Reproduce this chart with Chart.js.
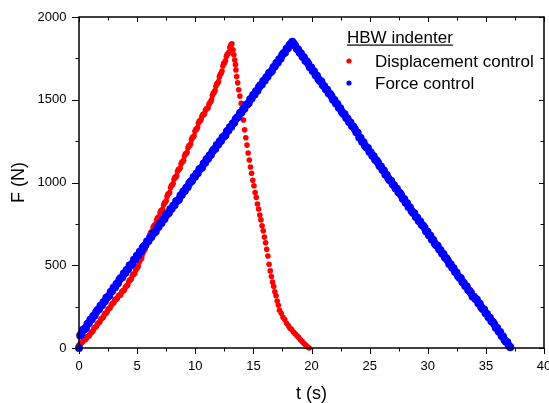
<!DOCTYPE html>
<html>
<head>
<meta charset="utf-8">
<script src="https://cdn.jsdelivr.net/npm/chart.js@4.4.1/dist/chart.umd.min.js"></script>
<style>
  body { margin: 0; background: #fff; }
  canvas { display: block; }
</style>
</head>
<body>
<canvas id="myChart" width="549" height="403"></canvas>
<script>
// Displacement control (red)
const dispT = [0, 0.075, 0.15, 0.225, 0.3, 0.375, 0.45, 0.525, 0.6, 0.675, 0.75, 0.825, 0.9, 0.975,
    1.05, 1.125, 1.2, 1.275, 1.35, 1.425, 1.5, 1.575, 1.65, 1.725, 1.8, 1.875, 1.95, 2.025,
    2.1, 2.175, 2.25, 2.325, 2.4, 2.475, 2.55, 2.625, 2.7, 2.775, 2.85, 2.925, 3.0, 3.075,
    3.15, 3.225, 3.3, 3.375, 3.45, 3.525, 3.6, 3.675, 3.75, 3.825, 3.9, 3.975, 4.05, 4.125,
    4.2, 4.275, 4.35, 4.425, 4.5, 4.575, 4.65, 4.725, 4.8, 4.875, 4.95, 5.025, 5.1, 5.175,
    5.25, 5.325, 5.4, 5.475, 5.55, 5.625, 5.7, 5.775, 5.85, 5.925, 6.0, 6.075, 6.15, 6.225,
    6.3, 6.375, 6.45, 6.525, 6.6, 6.675, 6.75, 6.825, 6.9, 6.975, 7.05, 7.125, 7.2, 7.275,
    7.35, 7.425, 7.5, 7.575, 7.65, 7.725, 7.8, 7.875, 7.95, 8.025, 8.1, 8.175, 8.25, 8.325,
    8.4, 8.475, 8.55, 8.625, 8.7, 8.775, 8.85, 8.925, 9.0, 9.075, 9.15, 9.225, 9.3, 9.375,
    9.45, 9.525, 9.6, 9.675, 9.75, 9.825, 9.9, 9.975, 10.05, 10.125, 10.2, 10.275, 10.35, 10.425,
    10.5, 10.575, 10.65, 10.725, 10.8, 10.875, 10.95, 11.025, 11.1, 11.175, 11.25, 11.325, 11.4, 11.475,
    11.55, 11.625, 11.7, 11.775, 11.85, 11.925, 12.0, 12.075, 12.15, 12.225, 12.3, 12.375, 12.45, 12.525,
    12.6, 12.675, 12.75, 12.825, 12.9, 12.975, 13.05, 13.1, 13.15, 13.25, 13.32, 13.4, 13.46,
    13.5, 13.56, 13.65, 13.74, 13.84, 13.95, 14.05, 14.15, 14.25, 14.35, 14.45, 14.55, 14.65, 14.75, 14.85, 14.95,
    15.05, 15.15, 15.25, 15.35, 15.45, 15.55, 15.65, 15.75, 15.85, 15.95, 16.05, 16.15, 16.25, 16.35, 16.45, 16.55,
    16.65, 16.75, 16.85, 16.95, 17.05, 17.15, 17.25, 17.4, 17.55, 17.7, 17.85, 18.0, 18.15, 18.3, 18.45, 18.6,
    18.75, 18.9, 19.05, 19.2, 19.35, 19.5, 19.65, 19.8]
const dispF = [18, 22, 30, 31, 36, 44, 49, 50, 55, 64, 70, 71, 76, 88,
    95, 97, 103, 116, 124, 125, 131, 143, 151, 152, 158, 172, 180, 181,
    188, 201, 209, 210, 216, 230, 238, 239, 246, 260, 268, 269, 275, 289,
    296, 295, 300, 314, 320, 319, 324, 339, 346, 345, 349, 365, 373, 374,
    382, 400, 410, 411, 418, 436, 446, 446, 452, 472, 482, 485, 494, 518,
    532, 535, 546, 570, 585, 589, 600, 625, 640, 644, 655, 681, 696, 699,
    708, 730, 740, 742, 750, 773, 786, 787, 794, 818, 830, 831, 838, 864,
    877, 880, 890, 916, 930, 932, 940, 968, 982, 985, 994, 1019, 1031, 1032,
    1040, 1066, 1078, 1080, 1088, 1112, 1124, 1126, 1134, 1160, 1173, 1175, 1183, 1209,
    1222, 1224, 1233, 1259, 1272, 1274, 1282, 1309, 1322, 1324, 1332, 1358, 1371, 1372,
    1380, 1400, 1410, 1410, 1416, 1436, 1446, 1446, 1452, 1472, 1482, 1488, 1499, 1526,
    1540, 1544, 1555, 1582, 1596, 1600, 1610, 1638, 1652, 1660, 1673, 1704, 1720, 1724,
    1735, 1762, 1774, 1778, 1788, 1815, 1828, 1834, 1838, 1802, 1772, 1740, 1712,
    1680, 1640, 1602, 1560, 1522, 1478, 1432, 1378, 1318, 1270, 1226, 1178, 1136, 1094, 1056, 1014,
    980, 940, 910, 870, 840, 803, 774, 738, 708, 670, 636, 596, 556, 506, 466, 432,
    398, 372, 340, 316, 284, 258, 228, 210, 186, 172, 150, 136, 120, 112, 96, 86,
    74, 64, 50, 40, 27, 18, 8, 0]

// Force control (blue)
const forceT = [0,
    0.1, 0.225, 0.35, 0.475, 0.6, 0.725, 0.85, 0.975,
    1.1, 1.225, 1.35, 1.475, 1.6, 1.725, 1.85, 1.975,
    2.1, 2.225, 2.35, 2.475, 2.6, 2.725, 2.85, 2.975,
    3.1, 3.225, 3.35, 3.475, 3.6, 3.725, 3.85, 3.975,
    4.1, 4.225, 4.35, 4.475, 4.6, 4.725, 4.85, 4.975,
    5.1, 5.225, 5.35, 5.475, 5.6, 5.725, 5.85, 5.975,
    6.1, 6.225, 6.35, 6.475, 6.6, 6.725, 6.85, 6.975,
    7.1, 7.225, 7.35, 7.475, 7.6, 7.725, 7.85, 7.975,
    8.1, 8.225, 8.35, 8.475, 8.6, 8.725, 8.85, 8.975,
    9.1, 9.225, 9.35, 9.475, 9.6, 9.725, 9.85, 9.975,
    10.1, 10.225, 10.35, 10.475, 10.6, 10.725, 10.85, 10.975,
    11.1, 11.225, 11.35, 11.475, 11.6, 11.725, 11.85, 11.975,
    12.1, 12.225, 12.35, 12.475, 12.6, 12.725, 12.85, 12.975,
    13.1, 13.225, 13.35, 13.475, 13.6, 13.725, 13.85, 13.975,
    14.1, 14.225, 14.35, 14.475, 14.6, 14.725, 14.85, 14.975,
    15.1, 15.225, 15.35, 15.475, 15.6, 15.725, 15.85, 15.975,
    16.1, 16.225, 16.35, 16.475, 16.6, 16.725, 16.85, 16.975,
    17.1, 17.225, 17.35, 17.475, 17.6, 17.725, 17.85, 17.975,
    18.1, 18.225, 18.35, 18.475, 18.6, 18.725, 18.85, 18.975,
    19.1, 19.225, 19.35, 19.475, 19.6, 19.725, 19.85, 19.975,
    20.1, 20.225, 20.35, 20.475, 20.6, 20.725, 20.85, 20.975,
    21.1, 21.225, 21.35, 21.475, 21.6, 21.725, 21.85, 21.975,
    22.1, 22.225, 22.35, 22.475, 22.6, 22.725, 22.85, 22.975,
    23.1, 23.225, 23.35, 23.475, 23.6, 23.725, 23.85, 23.975,
    24.1, 24.225, 24.35, 24.475, 24.6, 24.725, 24.85, 24.975,
    25.1, 25.225, 25.35, 25.475, 25.6, 25.725, 25.85, 25.975,
    26.1, 26.225, 26.35, 26.475, 26.6, 26.725, 26.85, 26.975,
    27.1, 27.225, 27.35, 27.475, 27.6, 27.725, 27.85, 27.975,
    28.1, 28.225, 28.35, 28.475, 28.6, 28.725, 28.85, 28.975,
    29.1, 29.225, 29.35, 29.475, 29.6, 29.725, 29.85, 29.975,
    30.1, 30.225, 30.35, 30.475, 30.6, 30.725, 30.85, 30.975,
    31.1, 31.225, 31.35, 31.475, 31.6, 31.725, 31.85, 31.975,
    32.1, 32.225, 32.35, 32.475, 32.6, 32.725, 32.85, 32.975,
    33.1, 33.225, 33.35, 33.475, 33.6, 33.725, 33.85, 33.975,
    34.1, 34.225, 34.35, 34.475, 34.6, 34.725, 34.85, 34.975,
    35.1, 35.225, 35.35, 35.475, 35.6, 35.725, 35.85, 35.975,
    36.1, 36.225, 36.35, 36.475, 36.6, 36.725, 36.85, 36.975,
    37.1]
const forceF = [0,
    76, 88, 110, 114, 122, 145, 150, 170,
    173, 193, 197, 218, 229, 234, 256, 259,
    277, 282, 304, 308, 316, 339, 344, 364,
    367, 387, 391, 412, 423, 428, 450, 453,
    471, 476, 498, 502, 510, 533, 538, 558,
    561, 581, 585, 606, 617, 622, 644, 647,
    665, 670, 692, 696, 704, 727, 732, 752,
    755, 775, 779, 800, 811, 816, 838, 841,
    859, 864, 886, 890, 898, 921, 926, 946,
    949, 969, 973, 994, 1005, 1010, 1032, 1035,
    1053, 1058, 1080, 1084, 1092, 1115, 1120, 1140,
    1143, 1163, 1167, 1188, 1199, 1204, 1226, 1229,
    1247, 1252, 1274, 1278, 1286, 1309, 1314, 1334,
    1337, 1357, 1361, 1382, 1393, 1398, 1420, 1423,
    1441, 1446, 1468, 1472, 1480, 1503, 1508, 1528,
    1531, 1551, 1555, 1576, 1587, 1592, 1614, 1617,
    1635, 1640, 1662, 1666, 1674, 1697, 1702, 1722,
    1725, 1745, 1749, 1770, 1781, 1786, 1808, 1811,
    1829, 1838, 1850, 1838, 1827, 1808, 1803, 1786,
    1779, 1760, 1757, 1736, 1731, 1718, 1697, 1695,
    1674, 1671, 1648, 1645, 1624, 1613, 1610, 1588,
    1582, 1563, 1560, 1539, 1534, 1521, 1500, 1498,
    1477, 1474, 1451, 1448, 1427, 1416, 1413, 1391,
    1385, 1366, 1363, 1342, 1337, 1324, 1303, 1301,
    1272, 1269, 1246, 1243, 1222, 1211, 1208, 1186,
    1181, 1162, 1159, 1138, 1133, 1120, 1099, 1097,
    1075, 1072, 1049, 1046, 1025, 1014, 1011, 989,
    984, 965, 962, 941, 936, 923, 902, 900,
    878, 875, 852, 849, 828, 817, 814, 792,
    787, 768, 765, 744, 739, 726, 705, 703,
    682, 679, 656, 653, 632, 621, 618, 596,
    590, 571, 568, 547, 542, 529, 508, 506,
    485, 482, 459, 456, 435, 424, 421, 399,
    393, 374, 371, 350, 345, 332, 311, 309,
    296, 293, 270, 267, 246, 235, 232, 210,
    205, 186, 183, 162, 157, 144, 123, 121,
    99, 96, 73, 70, 49, 38, 35, 13,
    5]

const legendTitle = 'HBW indenter'
const fontName = '"Liberation Sans", Arial, sans-serif'

function toPoints(tArr, fArr) {
    return tArr.map((t, i) => ({ x: t, y: fArr[i] }))
}

// frame, inward/outward ticks and legend, like the original plot
const framePlugin = {
    id: 'frame',
    afterDraw(chart) {
        const ctx = chart.ctx
        const a = chart.chartArea
        const xs = chart.scales.x
        const ys = chart.scales.y
        ctx.save()
        ctx.strokeStyle = '#000'
        ctx.lineWidth = 1.5
        ctx.strokeRect(a.left, a.top, a.right - a.left, a.bottom - a.top)
        ctx.lineWidth = 1
        ctx.beginPath()
        const xt = xs.ticks.map(t => t.value)
        xt.forEach((v, i) => {
            const px = Math.round(xs.getPixelForValue(v)) + 0.5
            ctx.moveTo(px, a.bottom); ctx.lineTo(px, a.bottom + 6)
            ctx.moveTo(px, a.top); ctx.lineTo(px, a.top + 5)
            if (i < xt.length - 1) {
                const mx = Math.round(xs.getPixelForValue((v + xt[i + 1]) / 2)) + 0.5
                ctx.moveTo(mx, a.bottom); ctx.lineTo(mx, a.bottom + 3.5)
                ctx.moveTo(mx, a.top); ctx.lineTo(mx, a.top + 3.5)
            }
        })
        const yt = ys.ticks.map(t => t.value)
        yt.forEach((v, i) => {
            const py = Math.round(ys.getPixelForValue(v)) + 0.5
            ctx.moveTo(a.left, py); ctx.lineTo(a.left - 7, py)
            ctx.moveTo(a.right, py); ctx.lineTo(a.right - 5, py)
            if (i < yt.length - 1) {
                const my = Math.round(ys.getPixelForValue((v + yt[i + 1]) / 2)) + 0.5
                ctx.moveTo(a.left, my); ctx.lineTo(a.left - 3.5, my)
                ctx.moveTo(a.right, my); ctx.lineTo(a.right - 3.5, my)
            }
        })
        ctx.stroke()

        // legend
        ctx.fillStyle = '#000'
        ctx.font = '17px ' + fontName
        ctx.textBaseline = 'alphabetic'
        ctx.textAlign = 'left'
        ctx.fillText(legendTitle, 347, 43)
        const w = ctx.measureText(legendTitle).width
        ctx.fillRect(347, 44.5, w, 1.2)
        chart.data.datasets.forEach((ds, i) => {
            const y = 61 + i * 22
            ctx.fillStyle = ds.backgroundColor
            ctx.beginPath()
            ctx.arc(349, y, 2.6, 0, Math.PI * 2)
            ctx.fill()
            ctx.fillStyle = '#000'
            ctx.fillText(ds.label, 375, y + 5.5)
        })
        ctx.restore()
    }
}

const myChart = new Chart(
    document.getElementById('myChart'), {
        type: 'scatter',
        data: {
            datasets: [{
                label: 'Displacement control',
                data: toPoints(dispT, dispF),
                backgroundColor: '#ff0000',
                borderWidth: 0,
                pointRadius: 2.8,
                clip: false,
                order: 1
            }, {
                label: 'Force control',
                data: toPoints(forceT, forceF),
                backgroundColor: '#0000ff',
                borderWidth: 0,
                pointRadius: 4,
                clip: false,
                order: 0
            }]
        },
        options: {
            responsive: false,
            animation: false,
            devicePixelRatio: 1,
            events: [],
            layout: {
                padding: { top: 17, right: 5, left: 0, bottom: 0 }
            },
            plugins: {
                legend: { display: false },
                tooltip: { enabled: false }
            },
            scales: {
                x: {
                    type: 'linear',
                    min: 0,
                    max: 40,
                    grid: { display: false, drawTicks: false },
                    border: { display: false },
                    ticks: {
                        stepSize: 5,
                        color: '#000',
                        padding: 11,
                        maxRotation: 0,
                        font: { family: fontName, size: 13 },
                        callback: (v) => String(v)
                    },
                    title: {
                        display: true,
                        text: 't (s)',
                        color: '#000',
                        font: { family: fontName, size: 18, lineHeight: 1 },
                        padding: { top: 0, bottom: 0 }
                    },
                    afterFit: (scale) => {
                        scale.height = 55
                        scale.paddingLeft = 0
                        scale.paddingRight = 0
                    }
                },
                y: {
                    type: 'linear',
                    min: 0,
                    max: 2000,
                    grid: { display: false, drawTicks: false },
                    border: { display: false },
                    ticks: {
                        stepSize: 500,
                        color: '#000',
                        padding: 12.5,
                        font: { family: fontName, size: 13 },
                        callback: (v) => String(v)
                    },
                    title: {
                        display: true,
                        text: 'F (N)',
                        color: '#000',
                        font: { family: fontName, size: 18, lineHeight: 1.2 },
                        padding: { top: 8, bottom: 0 }
                    },
                    afterFit: (scale) => {
                        scale.width = 79
                        scale.paddingTop = 0
                        scale.paddingBottom = 0
                    }
                }
            }
        },
        plugins: [framePlugin]
    }
)
</script>
</body>
</html>
